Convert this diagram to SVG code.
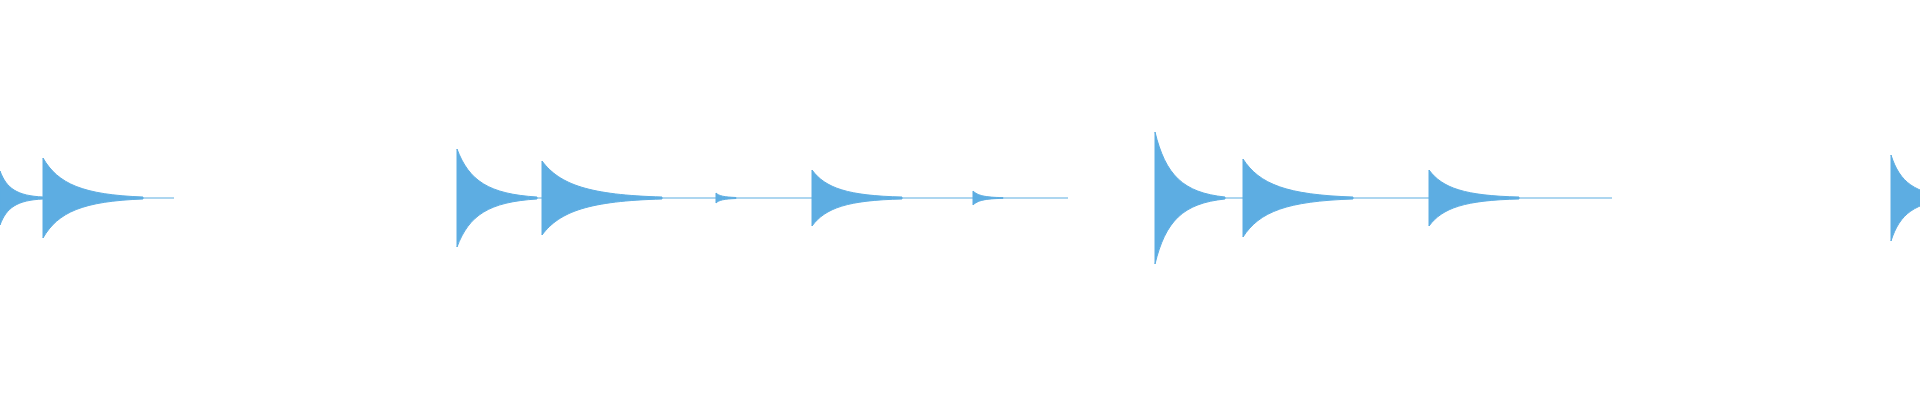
<svg xmlns="http://www.w3.org/2000/svg" width="1920" height="400" viewBox="0 0 1920 400">
<style>.b{fill:#5dade2;stroke:#5dade2;stroke-width:1}.l{stroke:#5dade2;stroke-width:1.2;fill:none}</style>
<rect width="1920" height="400" fill="#fff"/>
<g id="baseline">
<path class="l" d="M0,198H174M457,198H1068M1155,198H1612M1891,198H1920"/>
</g>
<g id="bursts">
<path class="b" d="M0,171 C6.5,188.5 17.2,195.8 43,197 L43,199 C17.2,200.2 6.5,207.5 0,225Z"/>
<path class="b" d="M43,158 C58,184 83,194.8 143,197 L143,199 C83,201.2 58,212 43,238Z"/>
<path class="b" d="M457,149 C469,180.9 489,194.1 537,197 L537,199 C489,201.9 469,215.1 457,247Z"/>
<path class="b" d="M542,161 C560,185 590,195 662,197 L662,199 C590,201 560,211 542,235Z"/>
<path class="b" d="M716,193 C719,196 724,197 736,197.5 L736,198.5 C724,199 719,200 716,203Z"/>
<path class="b" d="M812,170 C825.5,188.2 848,195.8 902,197 L902,199 C848,200.2 825.5,207.8 812,226Z"/>
<path class="b" d="M973,191 C977.5,195.5 985,197.4 1003,197.6 L1003,198.4 C985,198.6 977.5,200.5 973,205Z"/>
<path class="b" d="M1155,132 C1165.5,174.9 1183,192.7 1225,197 L1225,199 C1183,203.3 1165.5,221.1 1155,264Z"/>
<path class="b" d="M1243,159 C1259.5,184.4 1287,194.9 1353,197 L1353,199 C1287,201.1 1259.5,211.6 1243,237Z"/>
<path class="b" d="M1429,170 C1442.5,188.2 1465,195.8 1519,197 L1519,199 C1465,200.2 1442.5,207.8 1429,226Z"/>
<path class="b" d="M1891,155 C1900,183 1915,193 1951,197 L1951,199 C1915,203 1900,213 1891,241Z"/>
</g>
</svg>
